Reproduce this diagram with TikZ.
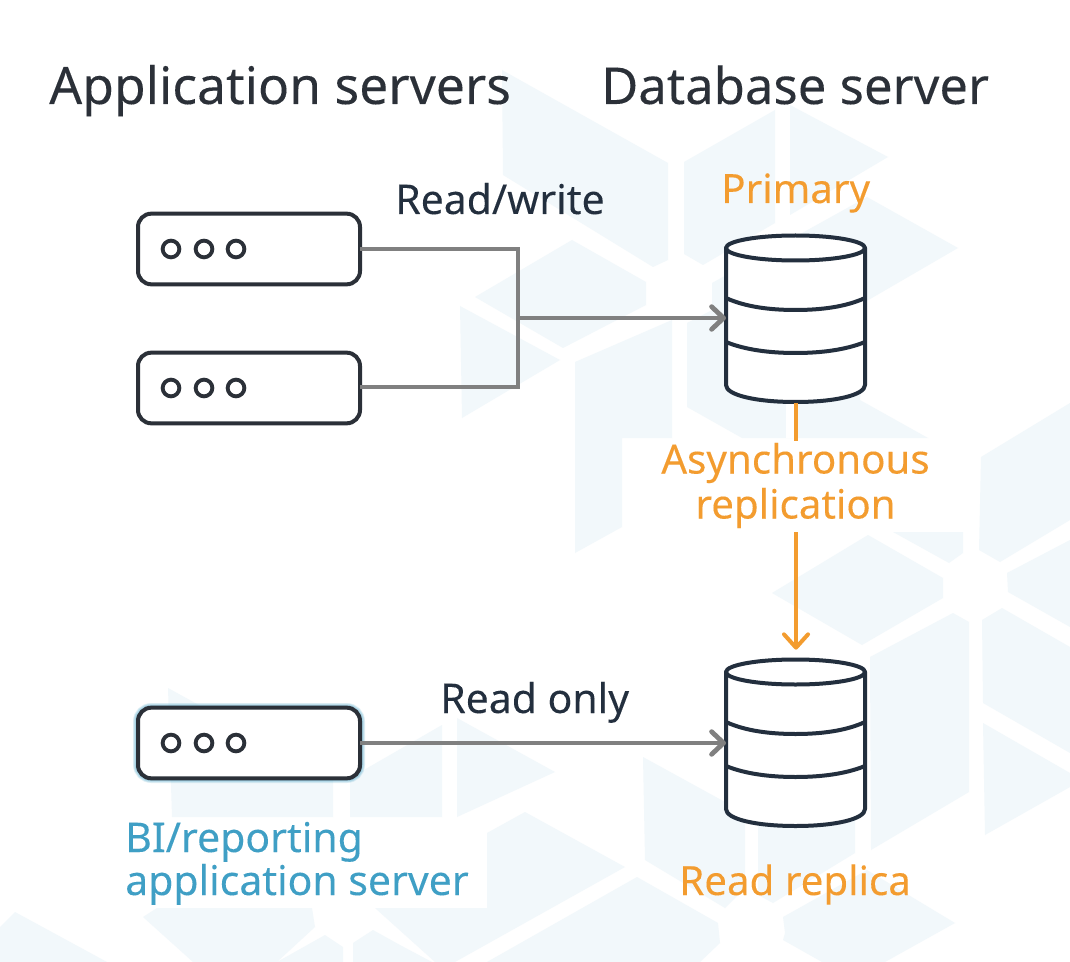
\documentclass[tikz,border=0pt]{standalone}
\usepackage{fontspec}
\setmainfont[FakeBold=0.12]{Noto Sans}
\usetikzlibrary{arrows.meta}
\definecolor{ink}{HTML}{232F3E}
\definecolor{titleink}{HTML}{2B3038}
\definecolor{hexbg}{HTML}{F2F8FB}
\definecolor{link}{HTML}{808080}
\definecolor{orange}{HTML}{F39C2F}
\definecolor{biblue}{HTML}{3F9FC5}
\tikzset{
  x=0.75pt,y=-0.75pt,
  hex/.style={fill=hexbg,draw=none},
  server/.style={draw=titleink,line width=3pt,fill=white,rounded corners=10pt,minimum width=166.5pt,minimum height=53pt,inner sep=0pt,outer sep=0pt},
  srvdot/.style={circle,draw=titleink,line width=2.9pt,fill=white,minimum size=12.5pt,inner sep=0pt,outer sep=0pt},
  dbbox/.style={minimum width=104.25pt,minimum height=126pt,inner sep=0pt,outer sep=0pt},
  dbline/.style={draw=ink,line width=3pt,line join=round},
  graylink/.style={draw=link,line width=3.6pt,line join=miter},
  graytip/.style={-{Straight Barb[length=9pt,width=17pt,line cap=round,line join=round]}},
  orangelink/.style={draw=orange,line width=3pt},
  orangetip/.style={-{Straight Barb[length=10pt,width=18pt,line cap=round,line join=round]}},
  headtxt/.style={anchor=base west,inner sep=0pt,text=titleink,font=\fontsize{38.7pt}{42pt}\selectfont},
  inktxt/.style={anchor=base west,inner sep=0pt,text=ink,font=\fontsize{30.7pt}{33.75pt}\selectfont},
  orangetxt/.style={anchor=base west,inner sep=0pt,text=orange,font=\fontsize{30.2pt}{33.75pt}\selectfont},
}
\begin{document}
\begin{tikzpicture}
\useasboundingbox (0,0) rectangle (1070,962);
\fill[white] (0,0) rectangle (1070,962);
% watermark
\path[hex] (502,70)--(668,163)--(668,260)--(653,267)--(503,175)--cycle;
\path[hex] (684,162)--(775,110)--(775,223)--(703,265)--(684,254)--cycle;
\path[hex] (790,105)--(888,157)--(790,215)--cycle;
\path[hex] (712,283)--(867,197)--(958,248)--(865,302)--(800,330)--(712,310)--cycle;
\path[hex] (572,240)--(646,282)--(646,305)--(563,348)--(475,297)--cycle;
\path[hex] (460,306)--(560,360)--(462,418)--cycle;
\path[hex] (575,362)--(672,320)--(672,438)--(622,438)--(622,527)--(575,553)--cycle;
\path[hex] (687,323)--(790,270)--(865,330)--(860,400)--(928,438)--(742,438)--(687,407)--cycle;
\fill[white] (786,400) rectangle (797,438);
\path[hex] (981,457)--(1070,403)--(1070,520)--(1000,562)--(979,550)--cycle;
\path[hex] (868,535)--(943,578)--(943,598)--(862,645)--(772,593)--cycle;
\path[hex] (893,532)--(963,532)--(963,553)--(949,563)--cycle;
\path[hex] (1007,573)--(1070,540)--(1070,627)--(1008,592)--cycle;
\path[hex] (870,657)--(953,613)--(969,622)--(969,792)--(871,850)--cycle;
\path[hex] (982,620)--(1002,608)--(1070,647)--(1070,753)--(983,703)--cycle;
\path[hex] (983,723)--(1070,773)--(1070,787)--(985,835)--cycle;
\path[hex] (758,800)--(855,800)--(855,853)--(773,903)--(758,895)--cycle;
\path[hex] (643,757)--(745,813)--(745,888)--(725,908)--(645,860)--cycle;
\path[hex] (783,917)--(867,870)--(955,923)--(885,962)--(822,962)--(783,940)--(785,933)--cycle;
\path[hex] (487,962)--(637,877)--(718,923)--(720,943)--(700,962)--cycle;
\path[hex] (487,833)--(525,812)--(625,867)--(455,962)--(435,962)--(375,908)--(487,908)--cycle;
\path[hex] (157,908)--(312,908)--(315,927)--(277,962)--(193,962)--(143,917)--cycle;
\path[hex] (0,927)--(15,912)--(107,962)--(0,962)--cycle;
\path[hex] (277,962)--(325,935)--(343,947)--(343,962)--cycle;
\path[hex] (353,943)--(373,930)--(400,945)--(432,962)--(353,962)--cycle;
\path[hex] (457,718)--(555,772)--(457,817)--cycle;
\path[hex] (442,725)--(350,778)--(350,817)--(442,817)--cycle;
\path[hex] (168,688)--(333,779)--(333,817)--(172,817)--cycle;

% titles
\node[headtxt] (titleapp) at (49,104) {Application servers};
\node[headtxt,font=\fontsize{38.1pt}{42pt}\selectfont] (titledb) at (601,104) {Database server};

% glow behind the BI server
\foreach \w in {7.5,6.5,5.5,4.5}
  \draw[biblue,opacity=.14,line width=\w pt,rounded corners=10pt] (138,708) rectangle (360,778);

% servers
\node[server] (s1) at (249,249) {};
\node[server] (s2) at (249,388) {};
\node[server] (s3) at (249,743) {};
\foreach \s in {s1,s2,s3}{
  \node[srvdot] (\s a) at ([xshift=-58.5pt]\s.center) {};
  \node[srvdot] (\s b) at ([xshift=-33.75pt]\s.center) {};
  \node[srvdot] (\s c) at ([xshift=-9.75pt]\s.center) {};
}

% databases
\node[dbbox] (p) at (795.5,319) {};
\node[dbbox] (r) at (795.5,743) {};
\foreach \d in {p,r}{
  \begin{scope}[shift={(\d.center)}]
    \path[dbline,fill=white] (-69.5,-71) -- (-69.5,66) .. controls (-69.5,76) and (-40,83) .. (0,83) .. controls (40,83) and (69.5,76) .. (69.5,66) -- (69.5,-71) -- cycle;
    \path[dbline,fill=white] (0,-71) ellipse [x radius=69.5,y radius=12.5];
    \path[dbline] (-69.5,-21) .. controls (-50,-12) and (-25,-9) .. (0,-9) .. controls (25,-9) and (50,-12) .. (69.5,-21);
    \path[dbline] (-69.5,23) .. controls (-50,31) and (-25,34) .. (0,34) .. controls (25,34) and (50,31) .. (69.5,23);
  \end{scope}
}

% connectors
\coordinate (jt) at (518,249);
\coordinate (jb) at (518,387);
\coordinate (jm) at (518,318);
\path[graylink] (s1.east) -- (jt) -- (jb) -- (s2.east |- jb);
\path[graylink,graytip] (jm) -- (jm -| p.west);
\path[graylink,graytip] (s3.east) -- (r.west);

% labels
\node[inktxt] (rw) at (395,214) {Read/write};
\node[inktxt] (ro) at (440,713) {Read only};
\node[orangetxt] (prim) at (721,203) {Primary};
\node[orangetxt] (rr) at (679,895) {Read replica};
\node[inktxt,text=biblue] (bi1) at (125,852) {BI/reporting};
\node[inktxt,text=biblue] (bi2) at (125,895) {application server};
\node[orangetxt,anchor=base] (as1) at (795.5,473.5) {Asynchronous};
\node[orangetxt,anchor=base] (as2) at (795.5,518.5) {replication};
\coordinate (asTop) at (796,441);
\coordinate (asBot) at (796,532);
\path[orangelink] (p.south -| asTop) -- (asTop);
\path[orangelink,orangetip,shorten >=7pt] (asBot) -- (r.north -| asBot);
\end{tikzpicture}
\end{document}
